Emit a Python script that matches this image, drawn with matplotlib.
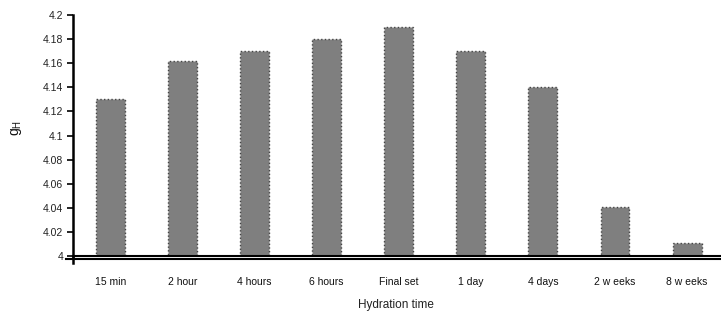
import matplotlib
matplotlib.use("Agg")
import matplotlib.pyplot as plt
from matplotlib.lines import Line2D

# Data
categories = ['15 min', '2 hour', '4 hours', '6 hours', 'Final set',
              '1 day', '4 days', '2 w eeks', '8 w eeks']
values = [4.13, 4.162, 4.17, 4.18, 4.19, 4.17, 4.14, 4.041, 4.011]
yticks = [4, 4.02, 4.04, 4.06, 4.08, 4.1, 4.12, 4.14, 4.16, 4.18, 4.2]

plt.rcParams['font.family'] = ['Liberation Sans', 'DejaVu Sans']

fig = plt.figure(figsize=(7.21, 3.2), dpi=100)
ax = fig.add_axes([0.101, 0.2, 0.897, 0.753])

x = list(range(len(categories)))
ax.bar(x, [v - 4 for v in values], bottom=4, width=0.4,
       color='#7f7f7f', edgecolor='#444444', linestyle=':', linewidth=1.0)

ax.set_ylim(4, 4.2)
ax.set_xlim(-0.52, 8.45)
ax.set_yticks(yticks)
ax.set_yticklabels(['%g' % t for t in yticks], fontsize=7.5, color='#222222')
ax.set_xticks(x)
ax.set_xticklabels(categories, fontsize=7.5, color='#111111')
ax.tick_params(axis='x', length=0, pad=15)
ax.tick_params(axis='y', direction='out', length=4, width=1.2, pad=3)

ax.spines['top'].set_visible(False)
ax.spines['right'].set_visible(False)
ax.spines['left'].set_linewidth(1.8)
ax.spines['bottom'].set_linewidth(1.5)

# second line of the double x-axis
ax.add_line(Line2D([-0.01, 1.0], [-0.013, -0.013], transform=ax.transAxes,
                   color='black', linewidth=1.5, clip_on=False))
ax.add_line(Line2D([0, 0], [-0.03, 0], transform=ax.transAxes,
                   color='black', linewidth=1.8, clip_on=False))

ax.set_xlabel('Hydration time', fontsize=8.5, color='#222222', labelpad=9)
ax.set_ylabel(r'$\mathregular{g_H}$', fontsize=10, color='#111111')
ax.yaxis.set_label_coords(-0.075, 0.53)

plt.savefig('out.png', dpi=100)
